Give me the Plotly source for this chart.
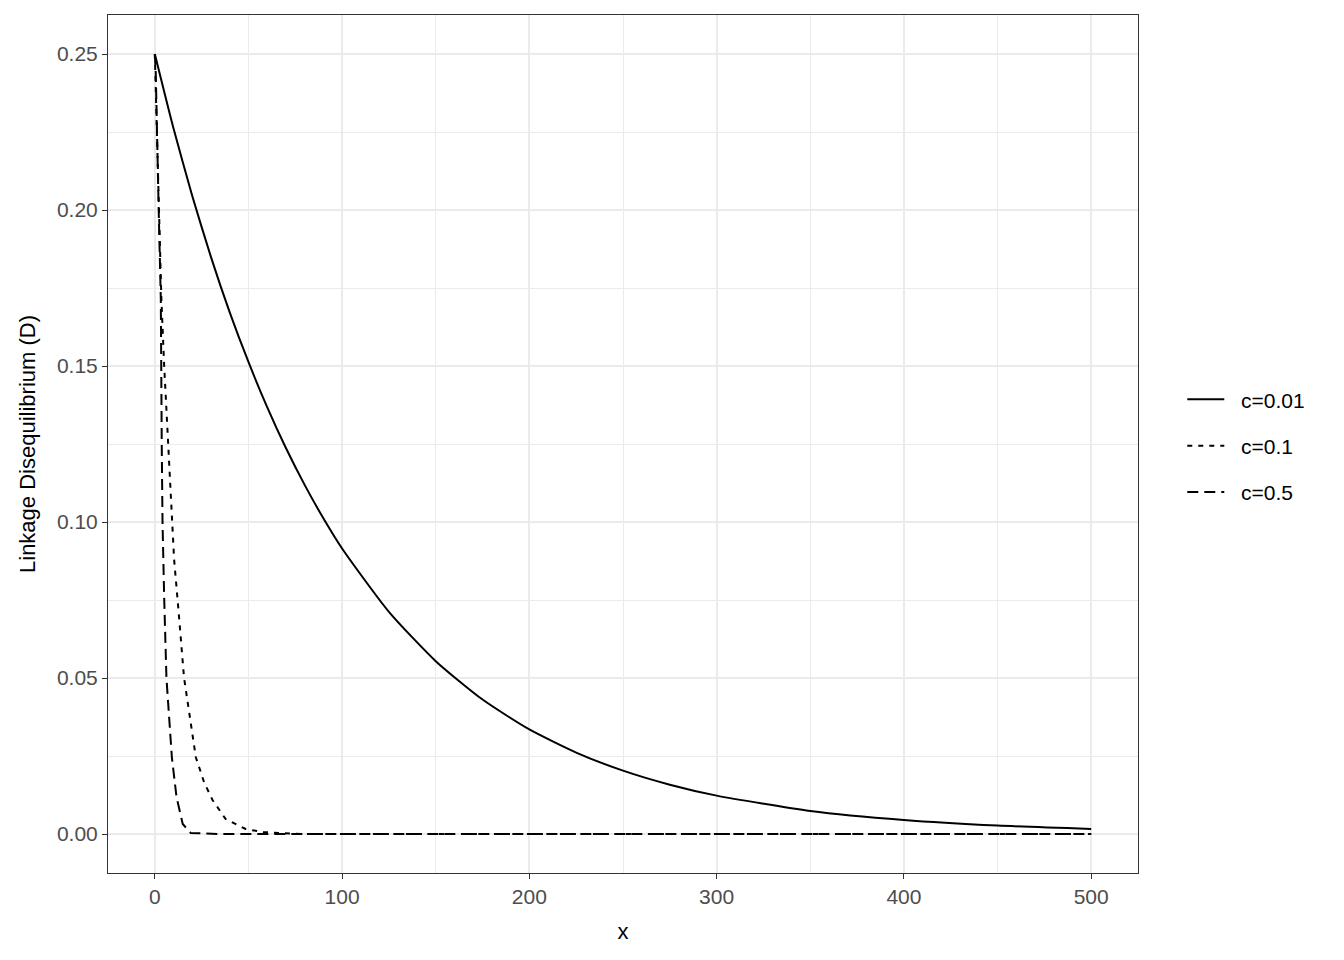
"""Linkage disequilibrium decay for three recombination rates (theme_bw look)."""

import plotly.graph_objects as go

# c = 0.01
x_c001 = [0, 10, 20, 30, 40, 50, 60, 70, 80, 90, 100, 125, 150, 175, 200,
          225, 250, 275, 300, 350, 400, 450, 500]
d_c001 = [0.25, 0.2261, 0.2045, 0.1849, 0.1672, 0.1513, 0.1368, 0.1237,
          0.1119, 0.1012, 0.0915, 0.0712, 0.0554, 0.0431, 0.0335, 0.0261,
          0.0203, 0.0158, 0.0123, 0.0074, 0.0045, 0.0027, 0.0016]

# c = 0.1
x_c01 = [0, 2.1, 3.5, 5, 7.3, 9.1, 10.3, 12.6, 15.6, 21.9, 26.3, 30.8, 37.8,
         48.5, 58, 78, 150, 300, 500]
d_c01 = [0.25, 0.201, 0.1715, 0.150, 0.1245, 0.1003, 0.0880, 0.0720, 0.0501,
         0.0246, 0.0166, 0.0109, 0.0048, 0.0016, 0.0006, 0.0, 0.0, 0.0, 0.0]

# c = 0.5
x_c05 = [0, 0.5, 2.0, 3.2, 3.7, 4.1, 5.0, 6.2, 9.1, 11.6, 14.9, 19.2, 35,
         100, 300, 500]
d_c05 = [0.25, 0.244, 0.2018, 0.1715, 0.1245, 0.1003, 0.0757, 0.0501, 0.0246,
         0.0118, 0.0032, 0.0003, 0.0, 0.0, 0.0, 0.0]

x_ticks = [0, 100, 200, 300, 400, 500]
y_ticks = [0.0, 0.05, 0.10, 0.15, 0.20, 0.25]

FONT = "Liberation Sans, Arial, Helvetica, sans-serif"
GRID = "#EBEBEB"
INK = "#333333"
PAD = "\u00a0\u00a0"  # a little air between legend key and label

fig = go.Figure()
series = [
    ("c=0.01", x_c001, d_c001, "solid", "spline"),
    ("c=0.1", x_c01, d_c01, "5px,6px", "linear"),
    ("c=0.5", x_c05, d_c05, "11px,6px", "linear"),
]
for name, xs, ys, dash, shape in series:
    fig.add_trace(go.Scatter(
        x=xs, y=ys, mode="lines", name=PAD + name, legendgroup=name,
        line=dict(color="black", width=2, dash=dash, shape=shape, smoothing=0.6),
    ))

axis_common = dict(
    showline=True, mirror=True, linecolor=INK, linewidth=1,
    ticks="outside", ticklen=5, tickcolor=INK, tickwidth=1.2,
    showgrid=True, gridcolor=GRID, gridwidth=2, zeroline=False,
    tickfont=dict(family=FONT, size=21, color="#4D4D4D"),
)

fig.update_xaxes(
    range=[-25, 525], tickvals=x_ticks,
    minor=dict(tickvals=[50, 150, 250, 350, 450], showgrid=True,
               gridcolor=GRID, gridwidth=1, ticks=""),
    title=dict(text="x", font=dict(family=FONT, size=22, color="black"), standoff=16),
    **axis_common,
)
fig.update_yaxes(
    range=[-0.0125, 0.2625], tickvals=y_ticks, tickformat=".2f",
    minor=dict(tickvals=[0.025, 0.075, 0.125, 0.175, 0.225], showgrid=True,
               gridcolor=GRID, gridwidth=1, ticks=""),
    title=dict(text="Linkage Disequilibrium (D)",
               font=dict(family=FONT, size=22, color="black"), standoff=15),
    **axis_common,
)

# the page puts the figure 8px in from the top-left corner
fig.update_layout(
    width=1328, height=944,
    paper_bgcolor="white", plot_bgcolor="white",
    margin=dict(l=100, r=198, t=7, b=79),
    font=dict(family=FONT, size=21, color="black"),
    legend=dict(
        x=1.043, y=0.498, xanchor="left", yanchor="middle",
        font=dict(family=FONT, size=21, color="black"),
        itemwidth=37, tracegroupgap=16, bgcolor="rgba(0,0,0,0)",
    ),
)

fig.write_html("out.html")
